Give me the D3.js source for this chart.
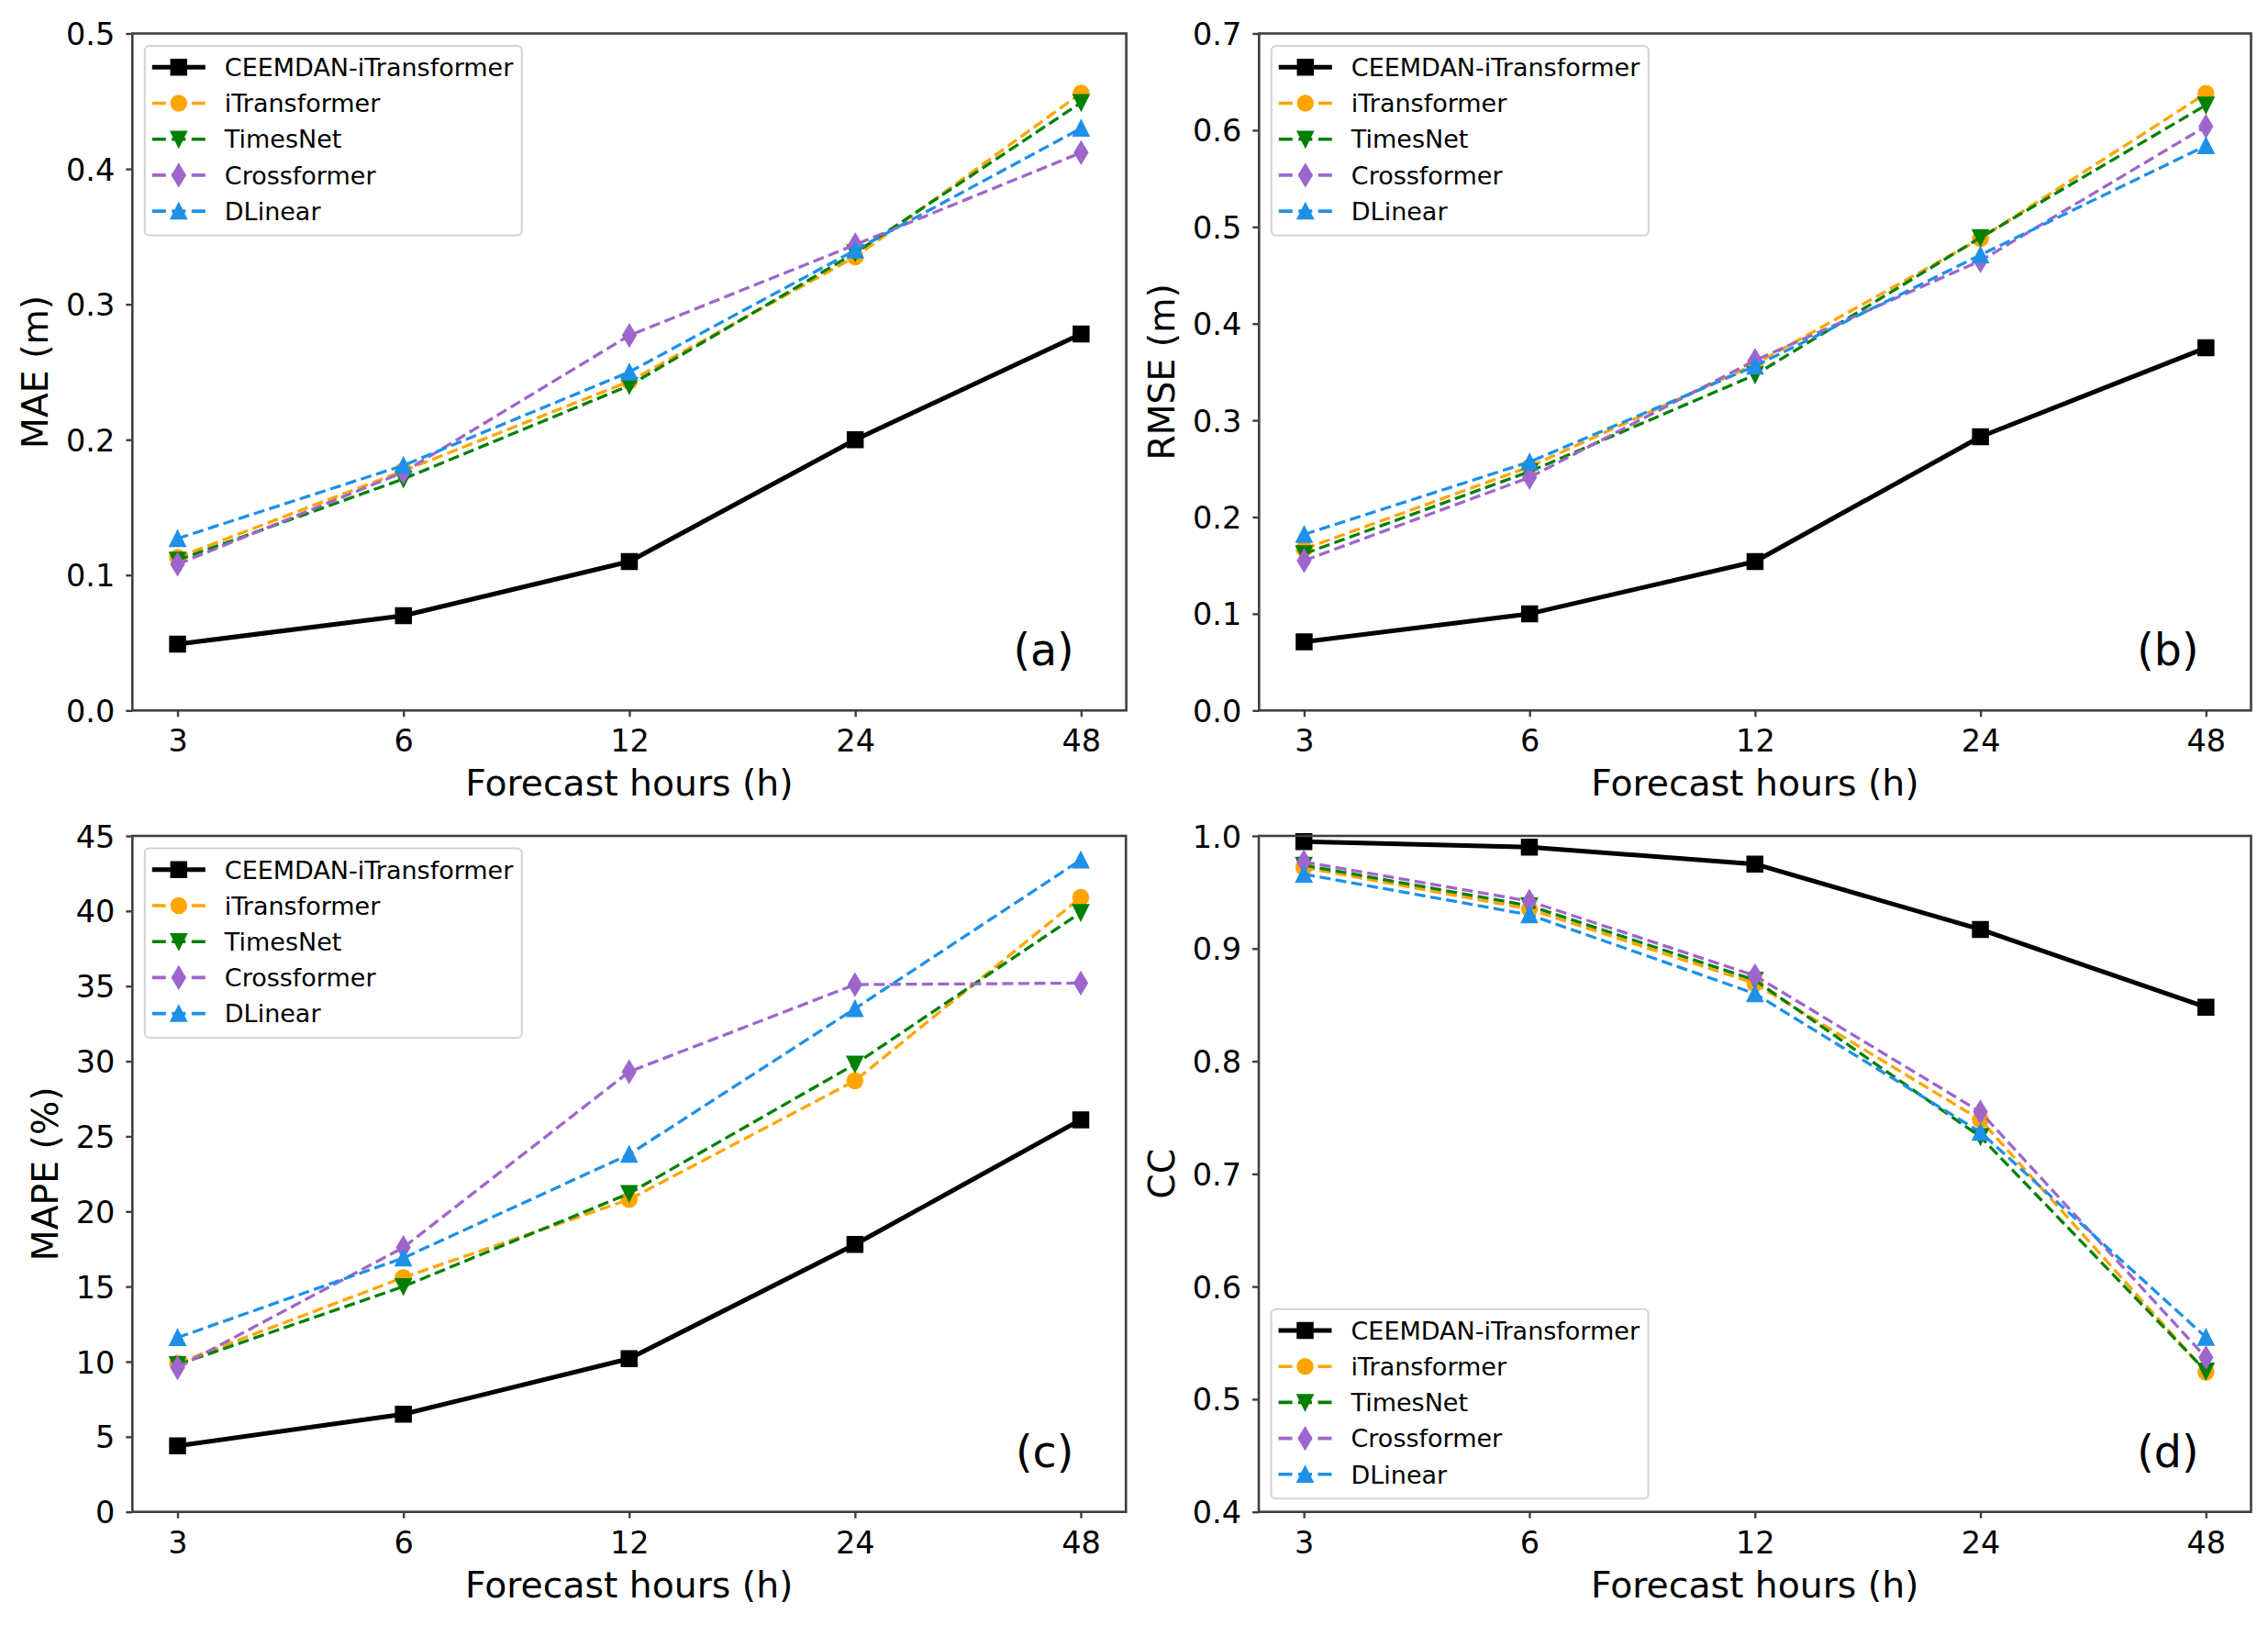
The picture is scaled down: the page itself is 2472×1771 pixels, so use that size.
<!DOCTYPE html>
<html><head><meta charset="utf-8">
<script src="https://cdn.jsdelivr.net/npm/d3@7"></script>
<style>
html,body{margin:0;padding:0;background:#fff;}
svg{display:block;}
text{font-family:"DejaVu Sans",sans-serif;fill:#000;}
</style></head>
<body>
<svg id="chart" width="2472" height="1771"></svg>
<script>
// ---------- data ----------
const hours = ["3", "6", "12", "24", "48"];
const models = ["CEEMDAN-iTransformer", "iTransformer", "TimesNet", "Crossformer", "DLinear"];
const modelColors = ["#000000", "#ffa500", "#008000", "#9e66cc", "#1e90e8"];
const modelMarkers = ["square", "circle", "triangleDown", "thinDiamond", "triangleUp"];

const maeValues = [
  [0.049, 0.070, 0.110, 0.200, 0.278],
  [0.113, 0.177, 0.243, 0.335, 0.456],
  [0.111, 0.171, 0.240, 0.338, 0.449],
  [0.108, 0.176, 0.277, 0.344, 0.412],
  [0.127, 0.181, 0.250, 0.340, 0.430]
];
const rmseValues = [
  [0.071, 0.100, 0.154, 0.283, 0.375],
  [0.167, 0.252, 0.358, 0.488, 0.638],
  [0.162, 0.247, 0.347, 0.489, 0.626],
  [0.155, 0.241, 0.362, 0.465, 0.604],
  [0.182, 0.257, 0.356, 0.471, 0.584]
];
const mapeValues = [
  [4.4, 6.5, 10.2, 17.8, 26.1],
  [9.9, 15.6, 20.8, 28.7, 40.9],
  [9.8, 15.0, 21.2, 29.8, 39.9],
  [9.6, 17.6, 29.3, 35.1, 35.2],
  [11.6, 16.9, 23.8, 33.5, 43.4]
];
const ccValues = [
  [0.995, 0.990, 0.975, 0.917, 0.848],
  [0.972, 0.935, 0.869, 0.748, 0.524],
  [0.974, 0.938, 0.872, 0.733, 0.525],
  [0.977, 0.942, 0.876, 0.755, 0.537],
  [0.966, 0.930, 0.860, 0.737, 0.555]
];

const maeTicks = [0.0, 0.1, 0.2, 0.3, 0.4, 0.5];
const rmseTicks = [0.0, 0.1, 0.2, 0.3, 0.4, 0.5, 0.6, 0.7];
const mapeTicks = [0, 5, 10, 15, 20, 25, 30, 35, 40, 45];
const ccTicks = [0.4, 0.5, 0.6, 0.7, 0.8, 0.9, 1.0];

const yLabels = ["MAE (m)", "RMSE (m)", "MAPE (%)", "CC"];
const panelLetters = ["(a)", "(b)", "(c)", "(d)"];
const xLabel = "Forecast hours (h)";

// ---------- layout ----------
const panels = [
  {values: maeValues,  ticks: maeTicks,  fmt: d3.format(".1f"), box: {l: 144.3, r: 1227.6, t: 36.5, b: 774.3}, legend: "top"},
  {values: rmseValues, ticks: rmseTicks, fmt: d3.format(".1f"), box: {l: 1372.3, r: 2453.5, t: 36.5, b: 774.3}, legend: "top"},
  {values: mapeValues, ticks: mapeTicks, fmt: d3.format("d"),   box: {l: 144.3, r: 1227.2, t: 911, b: 1647.7}, legend: "top"},
  {values: ccValues,   ticks: ccTicks,   fmt: d3.format(".1f"), box: {l: 1372.0, r: 2453.5, t: 911, b: 1647.7}, legend: "bottom"}
];

const svg = d3.select("#chart");
const TICK_FS = 33.5, LABEL_FS = 39.3, LEG_FS = 27, LETTER_FS = 47.5;
const SPINE = "#3f3f3f";
const MS = 16.5;

function markerPath(type, s) {
  const h = s / 2;
  switch (type) {
    case "square": return `M${-h},${-h}H${h}V${h}H${-h}Z`;
    case "circle": return d3.symbol(d3.symbolCircle, Math.PI * h * h)();
    case "triangleUp": return `M0,${-h}L${h},${h}L${-h},${h}Z`;
    case "triangleDown": return `M0,${h}L${h},${-h}L${-h},${-h}Z`;
    case "thinDiamond": { const dh = s * 0.707, dw = dh * 0.6; return `M0,${-dh}L${dw},0L0,${dh}L${-dw},0Z`; }
  }
}

panels.forEach((p, pi) => {
  const {l, r, t, b} = p.box;
  const g = svg.append("g");
  const x = d3.scalePoint().domain(hours).range([l, r]).padding(0.2);
  const y = d3.scaleLinear().domain([p.ticks[0], p.ticks[p.ticks.length - 1]]).range([b, t]);

  // axes
  const xAxis = g.append("g").attr("transform", `translate(0,${b})`)
    .call(d3.axisBottom(x).tickSize(7).tickPadding(12));
  const yAxis = g.append("g").attr("transform", `translate(${l},0)`)
    .call(d3.axisLeft(y).tickValues(p.ticks).tickFormat(p.fmt).tickSize(7).tickPadding(12));
  [xAxis, yAxis].forEach(a => {
    a.select(".domain").remove();
    a.selectAll(".tick line").attr("stroke", SPINE).attr("stroke-width", 2.4);
    a.selectAll(".tick text").attr("font-size", TICK_FS).attr("font-family", "DejaVu Sans").attr("fill", "#000");
  });
  xAxis.selectAll(".tick text").attr("dy", null).attr("y", 45).attr("dominant-baseline", "alphabetic");
  yAxis.selectAll(".tick text").attr("dy", "0.36em");

  // lines & markers
  const line = d3.line().x((d, i) => x(hours[i])).y(d => y(d));
  p.values.forEach((vals, mi) => {
    const solid = mi === 0;
    const col = modelColors[mi];
    g.append("path").datum(vals).attr("d", line)
      .attr("fill", "none").attr("stroke", col)
      .attr("stroke-width", solid ? 5 : 3.3)
      .attr("stroke-dasharray", solid ? null : "12,5.5")
      .attr("stroke-linejoin", "round");
    g.selectAll(null).data(vals).enter().append("path")
      .attr("d", markerPath(modelMarkers[mi], MS))
      .attr("transform", (d, i) => `translate(${x(hours[i])},${y(d)})`)
      .attr("fill", col).attr("stroke", col).attr("stroke-width", 2).attr("stroke-linejoin", "miter");
  });

  // spines (frame)
  g.append("rect").attr("x", l).attr("y", t).attr("width", r - l).attr("height", b - t)
    .attr("fill", "none").attr("stroke", SPINE).attr("stroke-width", 2.6);

  // legend
  const legW = 411, legH = 206.5;
  const lx = l + 13.5;
  const ly = p.legend === "top" ? t + 13.5 : b - 14.5 - legH;
  const lg = g.append("g").attr("transform", `translate(${lx},${ly})`);
  lg.append("rect").attr("width", legW).attr("height", legH).attr("rx", 5)
    .attr("fill", "#fff").attr("fill-opacity", 0.85).attr("stroke", "#d3d3d3").attr("stroke-width", 2);
  models.forEach((name, mi) => {
    const cy = 23.3 + mi * 39.2;
    const solid = mi === 0;
    const col = modelColors[mi];
    lg.append("line").attr("x1", 8).attr("x2", 66).attr("y1", cy).attr("y2", cy)
      .attr("stroke", col).attr("stroke-width", solid ? 5 : 3.6)
      .attr("stroke-dasharray", solid ? null : "15,6.5");
    lg.append("path").attr("d", markerPath(modelMarkers[mi], MS))
      .attr("transform", `translate(37,${cy})`).attr("fill", col).attr("stroke", col).attr("stroke-width", 2);
    lg.append("text").attr("x", 87).attr("y", cy).attr("dy", "0.36em")
      .attr("font-size", LEG_FS).text(name);
  });

  // panel letter
  g.append("text").attr("x", r - 57).attr("y", b - 49).attr("text-anchor", "end")
    .attr("font-size", LETTER_FS).text(panelLetters[pi]);

  // x label
  g.append("text").attr("x", (l + r) / 2).attr("y", b + 93).attr("text-anchor", "middle")
    .attr("font-size", LABEL_FS).text(xLabel);

  // y label, placed left of widest tick label
  let maxW = 0;
  yAxis.selectAll(".tick text").each(function () { maxW = Math.max(maxW, this.getComputedTextLength()); });
  const yb = l - 7 - 12 - maxW - 20;
  g.append("text").attr("transform", `translate(${yb},${(t + b) / 2}) rotate(-90)`)
    .attr("text-anchor", "middle").attr("font-size", LABEL_FS).text(yLabels[pi]);
});
</script>
</body></html>
